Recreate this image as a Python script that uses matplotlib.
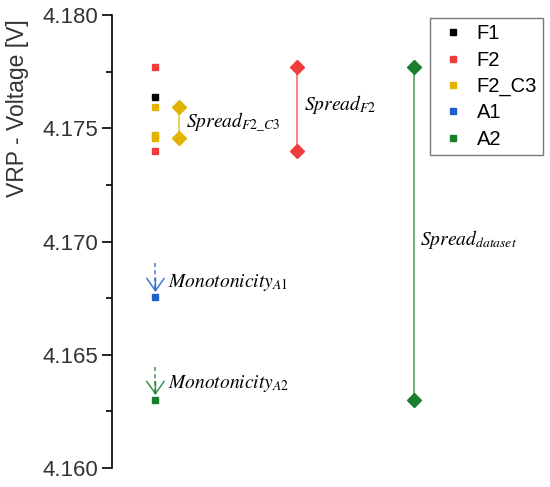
import numpy as np
import matplotlib.pyplot as plt

plt.rcParams['font.family'] = ['Liberation Sans', 'DejaVu Sans']
plt.rcParams['mathtext.fontset'] = 'stix'

# measured VRP voltages per dataset
series = ['F1', 'F2', 'F2_C3', 'A1', 'A2']
colors = ['#000000', '#f03c3c', '#e0b400', '#1f5fcc', '#1a7f2a']
values = {
    'F1': [4.17638],
    'F2': [4.17770, 4.17400],
    'F2_C3': [4.17594, 4.17472, 4.17458],
    'A1': [4.16755],
    'A2': [4.16300],
}

# spread ranges
spread_x = [1.55, 4.25, 6.94]
spread_lo = [4.17458, 4.17400, 4.16300]
spread_hi = [4.17594, 4.17770, 4.17770]
spread_col = ['#e0b400', '#f03c3c', '#1a7f2a']
spread_lab = [r'$Spread_{F2\_C3}$', r'$Spread_{F2}$', r'$Spread_{dataset}$']
spread_lab_x = [1.71, 4.41, 7.08]
spread_lab_y = [4.17523, 4.17607, 4.17007]

# monotonicity arrows
mono_start = [4.16905, 4.16446]
mono_end = [4.16777, 4.16322]
mono_col = ['#1f5fcc', '#1a7f2a']
mono_lab = [r'$Monotonicity_{A1}$', r'$Monotonicity_{A2}$']
mono_lab_y = [4.16821, 4.16375]

fig = plt.figure(figsize=(5.5, 4.87), dpi=100)
ax = fig.add_axes([0.2036, 0.039, 0.79, 0.930])

x0 = 1.0
for s, c in zip(series, colors):
    v = values[s]
    ax.plot([x0] * len(v), v, ls='none', marker='s', ms=4.5, color=c, label=s)

for x, lo, hi, c, lab, lx, ly in zip(spread_x, spread_lo, spread_hi, spread_col,
                                     spread_lab, spread_lab_x, spread_lab_y):
    ax.plot([x, x], [lo, hi], color=c, lw=1.1, alpha=0.8)
    ax.plot([x, x], [lo, hi], ls='none', color=c, marker='D', ms=7.5)
    ax.text(lx, ly, lab, fontsize=14, va='center', ha='left', color='black')

for ys, ye, c, lab, ly in zip(mono_start, mono_end, mono_col, mono_lab, mono_lab_y):
    ax.plot([x0, x0], [ys, ye + 0.0001], color=c, lw=1.2, alpha=0.75,
            ls=(0, (2.5, 1.8)))
    ax.annotate('', xy=(x0, ye), xytext=(x0, ye + 0.0006),
                arrowprops=dict(arrowstyle='->,head_length=0.5,head_width=0.35',
                                color=c, lw=1.1, alpha=0.85, mutation_scale=18,
                                shrinkA=0, shrinkB=0))
    ax.text(1.28, ly, lab, fontsize=14, va='center', ha='left', color='black')

ax.set_xlim(0, 10)
ax.set_ylim(4.160, 4.180)
ax.set_yticks(np.arange(4.160, 4.1801, 0.005))
ax.set_yticks(np.arange(4.1625, 4.180, 0.005), minor=True)
ax.yaxis.set_major_formatter(plt.FormatStrFormatter('%.3f'))
ax.tick_params(axis='y', which='major', length=7, width=1.2, labelsize=16,
               labelcolor='#333333', pad=3)
ax.tick_params(axis='y', which='minor', length=4, width=1.2)
ax.set_xticks([])
for sp in ['top', 'right', 'bottom']:
    ax.spines[sp].set_visible(False)
ax.spines['left'].set_linewidth(1.2)
ax.set_ylabel('VRP - Voltage [V]', fontsize=16.5, color='#333333')
ax.yaxis.set_label_coords(-0.19, 0.795)

leg = ax.legend(loc='upper right', fontsize=14.5, frameon=True, fancybox=False,
                edgecolor='#555555', handlelength=1.7, handletextpad=0.3,
                borderpad=0.3, labelspacing=0.36, markerscale=1.0,
                borderaxespad=0, bbox_to_anchor=(0.992, 0.993))
leg.get_frame().set_linewidth(1.0)

fig.savefig('out.png', dpi=100)
